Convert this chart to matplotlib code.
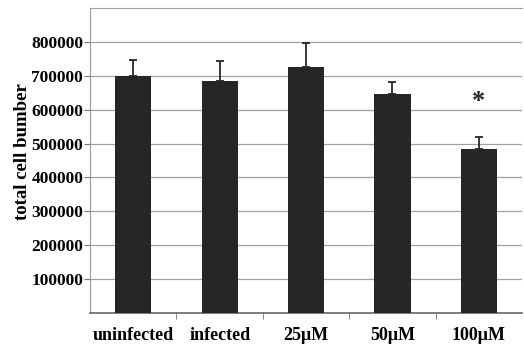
import matplotlib
matplotlib.use("Agg")
import matplotlib.pyplot as plt
import numpy as np

# values
groups = ["uninfected", "infected", "25\u03bcM", "50\u03bcM", "100\u03bcM"]
cell_counts = [700000, 684000, 727000, 645000, 483000]
errors = [46000, 60000, 70000, 38000, 35000]
yticks = [100000, 200000, 300000, 400000, 500000, 600000, 700000, 800000]
star_group = 4
star_y = 625000

plt.rcParams["font.family"] = ["Liberation Serif", "DejaVu Serif"]
plt.rcParams["font.weight"] = "bold"

fig = plt.figure(figsize=(5.24, 3.5), dpi=100)
ax = fig.add_axes([0.172, 0.106, 0.824, 0.871])

x = np.arange(len(groups))
ax.bar(x, cell_counts, width=0.42, color="#262626", zorder=3)
ax.errorbar(x, cell_counts, yerr=[np.zeros(len(errors)), errors], fmt="none",
            ecolor="#262626", elinewidth=1.3, capsize=3, capthick=1.3, zorder=4)

ax.text(x[star_group], star_y, "*", ha="center", va="center",
        fontsize=19, fontweight="bold", color="#262626")

ax.set_xlim(-0.5, len(groups) - 0.5)
ax.set_ylim(0, 900000)
ax.set_yticks(yticks)
ax.set_yticklabels([str(v) for v in yticks], fontsize=12.5, fontweight="bold")
ax.set_xticks(x)
ax.set_xticklabels(groups, fontsize=13, fontweight="bold")
ax.tick_params(axis="x", length=0, pad=10)
ax.set_xticks(np.arange(0.5, len(groups) - 0.5), minor=True)
ax.tick_params(axis="x", which="minor", length=4, color="#777777")
ax.tick_params(axis="y", length=4, color="#777777", pad=1)

ax.yaxis.grid(True, color="#a0a0a0", linewidth=0.9, zorder=0)
ax.set_ylabel("total cell bumber", fontsize=13.5, fontweight="bold")
ax.yaxis.set_label_coords(-0.138, 0.53)

ax.spines["right"].set_visible(False)
ax.spines["top"].set_color("#a0a0a0")
ax.spines["left"].set_color("#999999")
ax.spines["bottom"].set_color("#666666")
ax.spines["bottom"].set_linewidth(1.2)

fig.savefig("out.png", dpi=100)
